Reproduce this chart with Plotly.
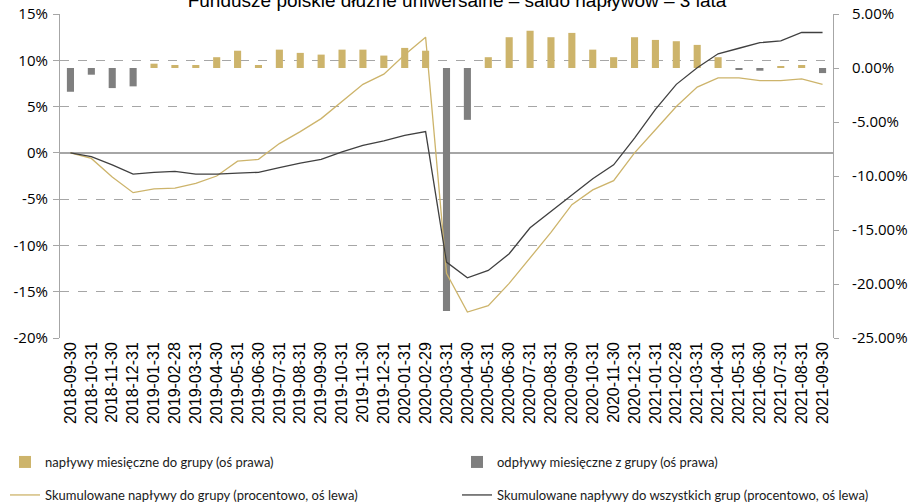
import plotly.graph_objects as go

categories = [
    "2018-09-30", "2018-10-31", "2018-11-30", "2018-12-31",
    "2019-01-31", "2019-02-28", "2019-03-31", "2019-04-30", "2019-05-31", "2019-06-30",
    "2019-07-31", "2019-08-31", "2019-09-30", "2019-10-31", "2019-11-30", "2019-12-31",
    "2020-01-31", "2020-02-29", "2020-03-31", "2020-04-30", "2020-05-31", "2020-06-30",
    "2020-07-31", "2020-08-31", "2020-09-30", "2020-10-31", "2020-11-30", "2020-12-31",
    "2021-01-31", "2021-02-28", "2021-03-31", "2021-04-30", "2021-05-31", "2021-06-30",
    "2021-07-31", "2021-08-31", "2021-09-30",
]

# monthly inflows to the group (right axis, %)
inflows = [None, None, None, None, 0.40, 0.28, 0.28, 1.00, 1.60, 0.28,
           1.70, 1.40, 1.24, 1.70, 1.70, 1.15, 1.86, 1.60, None, None,
           1.00, 2.85, 3.45, 2.85, 3.25, 1.70, 1.00, 2.85, 2.60, 2.48,
           2.14, 1.00, None, None, 0.10, 0.28, None]

# monthly outflows from the group (right axis, %)
outflows = [-2.20, -0.62, -1.86, -1.70, None, None, None, None, None, None,
            None, None, None, None, None, None, None, None, -22.5, -4.80,
            None, None, None, None, None, None, None, None, None, None,
            None, None, -0.10, -0.25, None, None, -0.47]

# cumulative inflows to the group (left axis, %)
cum_group = [0.0, -0.6, -2.6, -4.3, -3.9, -3.8, -3.3, -2.5, -0.9, -0.7,
             1.0, 2.3, 3.7, 5.5, 7.4, 8.5, 10.6, 12.5, -13.0, -17.2,
             -16.5, -14.1, -11.3, -8.6, -5.6, -4.0, -3.0, 0.0, 2.5, 5.0,
             7.1, 8.1, 8.1, 7.8, 7.8, 8.0, 7.4]

# cumulative inflows to all groups (left axis, %)
cum_all = [0.0, -0.4, -1.3, -2.3, -2.1, -2.0, -2.3, -2.3, -2.2, -2.1,
           -1.6, -1.1, -0.7, 0.1, 0.8, 1.3, 1.9, 2.3, -11.8, -13.5,
           -12.7, -10.9, -8.1, -6.3, -4.5, -2.8, -1.3, 1.6, 4.7, 7.4,
           9.2, 10.7, 11.3, 11.9, 12.1, 13.0, 13.0]

left_ticks = [15, 10, 5, 0, -5, -10, -15, -20]
left_labels = ["15%", "10%", "5%", "0%", "-5%", "-10%", "-15%", "-20%"]
right_ticks = [5, 0, -5, -10, -15, -20, -25]
right_labels = ["5.00%", "0.00%", "-5.00%", "-10.00%", "-15.00%", "-20.00%", "-25.00%"]

title_text = "Fundusze polskie dłużne uniwersalne – saldo napływów – 3 lata"

GOLD = "#CDB46B"
GRAY_BAR = "#7F7F7F"
DARK = "#404040"
AXIS = "#A6A6A6"

fig = go.Figure()

# bars on the primary (right-side) axis so the lines are drawn on top of them
fig.add_trace(go.Bar(
    x=categories, y=inflows, yaxis="y", name="napływy miesięczne do grupy (oś prawa)",
    marker=dict(color=GOLD, line=dict(width=0)), width=0.34, legend="legend",
    showlegend=True,
))
fig.add_trace(go.Bar(
    x=categories, y=outflows, yaxis="y", name="odpływy miesięczne z grupy (oś prawa)",
    marker=dict(color=GRAY_BAR, line=dict(width=0)), width=0.34, legend="legend2",
    showlegend=True,
))
fig.add_trace(go.Scatter(
    x=categories, y=cum_group, mode="lines", yaxis="y2",
    name="Skumulowane napływy do grupy (procentowo, oś lewa)",
    line=dict(color=GOLD, width=1.3), legend="legend3", showlegend=True,
))
fig.add_trace(go.Scatter(
    x=categories, y=cum_all, mode="lines", yaxis="y2",
    name="Skumulowane napływy do wszystkich grup (procentowo, oś lewa)",
    line=dict(color=DARK, width=1.3), legend="legend4", showlegend=True,
))

legend_common = dict(
    orientation="h", xref="container", yref="container", xanchor="left",
    yanchor="middle",
    font=dict(family="Lato", size=13, color="#1a1a1a"), bgcolor="rgba(0,0,0,0)",
    borderwidth=0,
)

col1 = 5 / 909
col2 = 457 / 909
row1 = 1 - 462 / 504
row2 = 1 - 495 / 504

fig.update_layout(
    width=909, height=504,
    showlegend=True,
    margin=dict(l=60, r=76, t=14, b=166, autoexpand=False),
    paper_bgcolor="white", plot_bgcolor="white",
    barmode="relative",
    title=dict(text=title_text, x=457 / 909, xref="container", xanchor="center",
               y=1 - 0.5 / 504, yref="container", yanchor="middle",
               font=dict(family="Liberation Sans", size=19, color="#000")),
    xaxis=dict(type="category", tickangle=-90, showgrid=False, showline=False,
               zeroline=False, ticks="",
               tickfont=dict(family="Liberation Sans", size=16, color="#000")),
    yaxis=dict(range=[-25, 5], tickvals=right_ticks, ticktext=right_labels,
               side="right", showgrid=False, zeroline=False,
               showline=True, linecolor=AXIS, linewidth=1.2,
               ticks="outside", ticklen=5, tickcolor=AXIS, ticklabelstandoff=10,
               tickfont=dict(family="Open Sans", size=15, color="#000")),
    yaxis2=dict(range=[-20, 15], tickvals=left_ticks, ticktext=left_labels,
                overlaying="y", side="left",
                showgrid=True, gridcolor=AXIS, griddash="dash", gridwidth=1,
                zeroline=True, zerolinecolor=AXIS, zerolinewidth=1.5,
                showline=True, linecolor=AXIS, linewidth=1.2,
                ticks="outside", ticklen=6, tickcolor=AXIS, ticklabelstandoff=2,
                tickfont=dict(family="Open Sans", size=15, color="#000")),
    legend=dict(x=col1, y=row1, **legend_common),
    legend2=dict(x=col2, y=row1, **legend_common),
    legend3=dict(x=col1, y=row2, **legend_common),
    legend4=dict(x=col2, y=row2, **legend_common),
)

fig.write_html("out.html")
